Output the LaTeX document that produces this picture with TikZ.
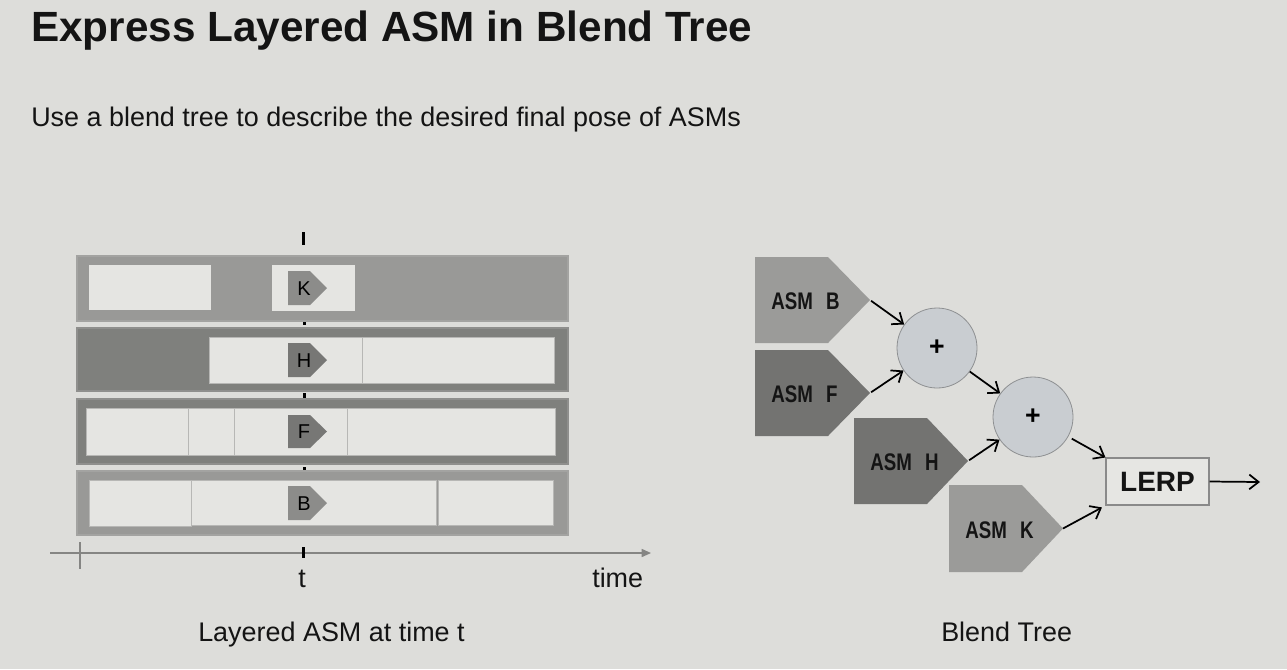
\documentclass[tikz,border=0pt]{standalone}
\usepackage{fontspec}
\setmainfont{Liberation Sans}
\newfontfamily\asmfont[FakeStretch=0.78]{Liberation Sans}
\usetikzlibrary{arrows.meta}
\definecolor{bg}{HTML}{DDDDDA}
\definecolor{lightbox}{HTML}{E5E5E2}
\definecolor{midrow}{HTML}{999997}
\definecolor{darkrow}{HTML}{7F807D}
\definecolor{rowedge}{HTML}{8F8F8D}
\definecolor{pentlight}{HTML}{8C8C8A}
\definecolor{pentdark}{HTML}{777775}
\definecolor{asmlight}{HTML}{9B9B99}
\definecolor{asmdark}{HTML}{737371}
\definecolor{circfill}{HTML}{C9CDD1}
\definecolor{circedge}{HTML}{8E9092}
\definecolor{lerpfill}{HTML}{E6E6E3}
\definecolor{lerpedge}{HTML}{8A8A8A}
\definecolor{axisgray}{HTML}{858583}
\definecolor{textdark}{HTML}{141414}
\newcommand{\pentshape}[6]{%
  \fill[#6] (#1,#2) -- ++(#3,0) -- ++(#4,#5) -- ++(-#4,#5) -- ++(-#3,0) -- cycle;}
\begin{document}
\begin{tikzpicture}[x=0.75pt,y=-0.75pt,
  txt/.style={inner sep=0pt, text=textdark},
  rowbox/.style={line width=1.2pt},
  inbox/.style={fill=lightbox, draw=lightbox!80!black, line width=0.5pt},
  rowlbl/.style={inner sep=0pt, font=\fontsize{15}{15}\selectfont, text=black},
  asmlbl/.style={inner sep=0pt, anchor=base west, font=\asmfont\bfseries\fontsize{18}{18}\selectfont, text=textdark},
  plus/.style={circle, fill=circfill, draw=circedge, line width=0.6pt, minimum size=60pt, inner sep=0pt, font=\bfseries\fontsize{20}{20}\selectfont},
  conn/.style={draw=black, line width=1.3pt, -{Straight Barb[length=7pt,width=11pt,line width=1.3pt]}}
]
\fill[bg] (0,0) rectangle (1287,669);
\useasboundingbox (0,0) rectangle (1287,669);

% Title and subtitle
\node[txt, anchor=base west, font=\bfseries\fontsize{31.7}{36}\selectfont] (title) at (31,41) {Express Layered ASM in Blend Tree};
\node[txt, anchor=base west, font=\fontsize{20.2}{24}\selectfont] (subtitle) at (31,126) {Use a blend tree to describe the desired final pose of ASMs};

% ---------- Left: layered ASM ----------
% time marker ticks
\fill[black] (301.5,232) rectangle (304.5,245);
\fill[black] (302.5,321) rectangle (305.5,325);
\fill[black] (302.5,393) rectangle (305.5,399);
\fill[black] (302.5,467) rectangle (305.5,471);

% Row 1 (K)
\filldraw[rowbox, fill=midrow, draw=midrow!90!white] (77,256) rectangle (568,321);
\fill[lightbox] (89,265) rectangle (211,310);
\fill[lightbox] (272,265) rectangle (355,311);
\pentshape{288}{271}{22}{17}{17}{pentlight}
\node[rowlbl] (lk) at (304,289) {K};

% Row 2 (H)
\filldraw[rowbox, fill=darkrow, draw=rowedge] (77,328) rectangle (568,391);
\filldraw[inbox] (209,337) rectangle (362,383);
\filldraw[inbox] (362,337) rectangle (554,383);
\pentshape{288}{343}{22}{17}{17}{pentdark}
\node[rowlbl] (lh) at (304,361) {H};

% Row 3 (F)
\filldraw[rowbox, fill=darkrow, draw=rowedge] (77,399) rectangle (568,464);
\filldraw[inbox] (86,408) rectangle (188,455);
\filldraw[inbox] (188,408) rectangle (234,455);
\filldraw[inbox] (234,408) rectangle (347,455);
\filldraw[inbox] (347,408) rectangle (555,455);
\pentshape{288}{415}{22}{17}{16.5}{pentdark}
\node[rowlbl] (lf) at (304,432) {F};

% Row 4 (B)
\filldraw[rowbox, fill=midrow, draw=midrow!90!white] (77,471) rectangle (568,535);
\filldraw[inbox] (89,480) rectangle (191,526);
\filldraw[inbox] (191,480) rectangle (436,525);
\filldraw[inbox] (438,480) rectangle (553,525);
\pentshape{288}{486}{22}{17}{17}{pentlight}
\node[rowlbl] (lb) at (304,504) {B};

% time axis
\coordinate (axs) at (50,553);
\coordinate (axe) at (651,553);
\draw[axisgray, line width=1.1pt, -{Triangle[length=7pt,width=6pt]}] (axs) -- (axe);
\draw[axisgray, line width=0.9pt] (80,542) -- (80,569);
\fill[black] (301.5,547) rectangle (304.5,558);
\node[txt, anchor=base, font=\fontsize{20.2}{24}\selectfont] (tlbl) at (302,587) {t};
\node[txt, anchor=base west, font=\fontsize{20.2}{24}\selectfont] (timelbl) at (592,587) {time};
\node[txt, anchor=base west, font=\fontsize{20.2}{24}\selectfont] (capl) at (198,641) {Layered ASM at time t};

% ---------- Right: blend tree ----------
\pentshape{755}{257}{73}{42}{43}{asmlight}
\pentshape{755}{350}{73}{42}{43}{asmdark}
\pentshape{854}{418}{73}{41}{43}{asmdark}
\pentshape{949}{485}{73}{41}{43.5}{asmlight}
\coordinate (tipB) at (870,300);
\coordinate (tipF) at (870,393);
\coordinate (tipH) at (968,461);
\coordinate (tipK) at (1063,528.5);
\node[asmlbl] (asmB) at (771,309.5) {ASM\,\, B};
\node[asmlbl] (asmF) at (771,402.5) {ASM\,\, F};
\node[asmlbl] (asmH) at (870,470.5) {ASM\,\, H};
\node[asmlbl] (asmK) at (965,538.5) {ASM\,\, K};

\node[plus] (c1) at (937,348) {+};
\node[plus] (c2) at (1033,417) {+};
\node[draw=lerpedge, fill=lerpfill, line width=0.8pt, minimum width=77.25pt, minimum height=35.25pt, inner sep=0pt, font=\bfseries\fontsize{21}{21}\selectfont, text=textdark] (lerp) at (1157.5,481.5) {LERP};
\coordinate (outend) at (1260,482);

\draw[conn, shorten <=1pt] (tipB) -- (c1);
\draw[conn, shorten <=1pt] (tipF) -- (c1);
\draw[conn] (c1) -- (c2);
\draw[conn, shorten <=1pt] (tipH) -- (c2);
\draw[conn, shorten <=3pt] (c2) -- (lerp.north west);
\draw[conn, shorten >=3pt] (tipK) -- (lerp.south west);
\draw[conn] (lerp.east) -- (outend);

\node[txt, anchor=base west, font=\fontsize{20.2}{24}\selectfont] (capr) at (941,641) {Blend Tree};
\end{tikzpicture}
\end{document}
